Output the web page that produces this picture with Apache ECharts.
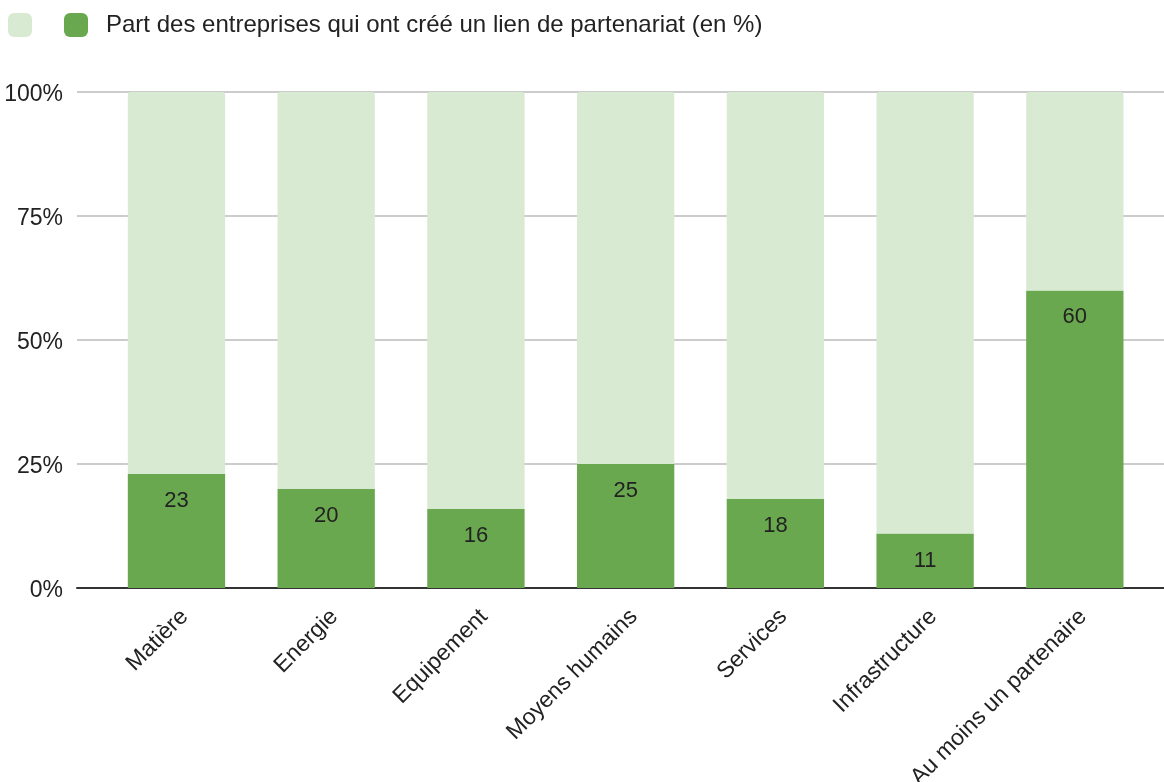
<!DOCTYPE html>
<html>
<head>
<meta charset="utf-8">
<script src="https://cdn.jsdelivr.net/npm/echarts@6/dist/echarts.min.js"></script>
<style>
html,body{margin:0;padding:0;background:#fff;}
#chart{width:1164px;height:782px;}
</style>
</head>
<body>
<div id="chart"></div>
<script>
const categories = ['Matière', 'Energie', 'Equipement', 'Moyens humains', 'Services', 'Infrastructure', 'Au moins un partenaire'];
const partValues = [23, 20, 16, 25, 18, 11, 60];
const resteValues = [77, 80, 84, 75, 82, 89, 40];
const seriesNames = ['Reste', 'Part des entreprises qui ont créé un lien de partenariat (en %)'];
const yTicks = [0, 25, 50, 75, 100];

const FONT = '"Liberation Sans", Arial, sans-serif';
const chart = echarts.init(document.getElementById('chart'), null, {renderer: 'canvas'});

chart.setOption({
  animation: false,
  textStyle: {fontFamily: FONT},
  legend: {
    left: 8, top: 13, padding: 0,
    itemWidth: 24, itemHeight: 24, itemGap: 32,
    icon: 'roundRect',
    selectedMode: false,
    data: seriesNames,
    formatter: function (n) { return n === seriesNames[0] ? '' : '{p|}' + n; },
    textStyle: {
      fontFamily: FONT, fontSize: 24, color: '#222',
      rich: {p: {width: 13, fontSize: 24}}
    }
  },
  grid: [
    {left: 77, right: 0, top: 92, bottom: 194, containLabel: false, outerBoundsMode: 'none'},
    {left: 101.6, right: 14.3, top: 92, bottom: 194, containLabel: false, outerBoundsMode: 'none'}
  ],
  xAxis: [
    {
      type: 'category', gridIndex: 0, data: categories,
      axisLine: {show: true, lineStyle: {color: '#333', width: 2}},
      axisTick: {show: false}, axisLabel: {show: false}, splitLine: {show: false}
    },
    {
      type: 'category', gridIndex: 1, data: categories,
      axisLine: {show: false}, axisTick: {show: false},
      axisLabel: {
        interval: 0, rotate: 45, margin: 17, verticalAlign: 'top',
        fontFamily: FONT, fontSize: 23, color: '#222'
      }
    }
  ],
  yAxis: [
    {
      type: 'value', gridIndex: 0, min: 0, max: 100, interval: 25,
      axisLine: {show: false}, axisTick: {show: false},
      axisLabel: {
        margin: 14, fontFamily: FONT, fontSize: 23, color: '#222',
        formatter: function (v) { return yTicks.indexOf(v) >= 0 ? '{t|' + v + '%}' : ''; },
        rich: {t: {fontFamily: FONT, fontSize: 23, color: '#222', padding: [6, 0, 0, 0]}}
      },
      splitLine: {show: true, lineStyle: {color: '#cccccc', width: 2}}
    },
    {
      type: 'value', gridIndex: 1, min: 0, max: 100, interval: 25,
      show: false, splitLine: {show: false}
    }
  ],
  series: [
    {
      name: seriesNames[1], type: 'bar', stack: 's',
      xAxisIndex: 1, yAxisIndex: 1,
      data: partValues, barWidth: '65%',
      itemStyle: {color: '#6aa84f'},
      label: {
        show: true, position: 'insideTop', distance: 16,
        fontFamily: FONT, fontSize: 22, color: '#222'
      }
    },
    {
      name: seriesNames[0], type: 'bar', stack: 's',
      xAxisIndex: 1, yAxisIndex: 1,
      data: resteValues, barWidth: '65%',
      itemStyle: {color: '#d9ead3', borderRadius: [3, 3, 0, 0]}
    }
  ]
});
</script>
</body>
</html>
